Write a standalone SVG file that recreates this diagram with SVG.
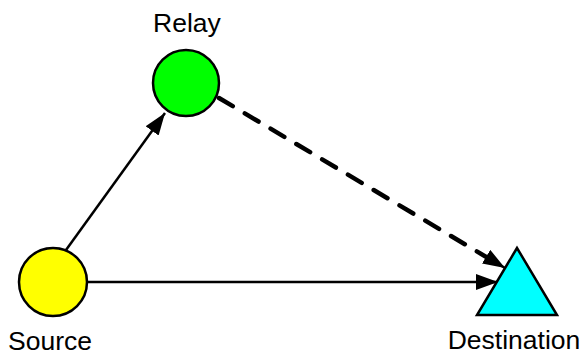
<svg xmlns="http://www.w3.org/2000/svg" width="586" height="356" viewBox="0 0 586 356">
<style>
text{font-family:"Liberation Sans",Arial,sans-serif;font-size:26.5px;fill:#000;text-anchor:middle}
.node{stroke:#000;stroke-width:2.5}
.edge{stroke:#000;fill:none;stroke-width:2.5}
.dash{stroke-width:4.5;stroke-dasharray:16,14;stroke-linecap:round}
</style>
<defs>
<marker id="ah" viewBox="0 0 22 16" refX="22" refY="8" markerWidth="22" markerHeight="16" markerUnits="userSpaceOnUse" orient="auto">
<path d="M0,0 L22,8 L0,16 Z" fill="#000"/>
</marker>
</defs>
<rect width="586" height="356" fill="#fff"/>
<g id="edges">
<path class="edge" d="M66,250 L165,113" marker-end="url(#ah)"/>
<path class="edge" d="M87,282 L498,282" marker-end="url(#ah)"/>
<path class="edge dash" d="M219,98 L488,258"/>
<path class="edge" d="M490,259 L505,268" marker-end="url(#ah)"/>
</g>
<g id="relay">
<circle class="node" cx="186" cy="83" r="33" fill="#00ff00"/>
<text x="187" y="32">Relay</text>
</g>
<g id="source">
<circle class="node" cx="53" cy="282" r="34" fill="#ffff00"/>
<text x="50" y="350">Source</text>
</g>
<g id="destination">
<polygon class="node" points="517,248 477,315 557,315" fill="#00ffff"/>
<text x="514" y="349">Destination</text>
</g>
</svg>
